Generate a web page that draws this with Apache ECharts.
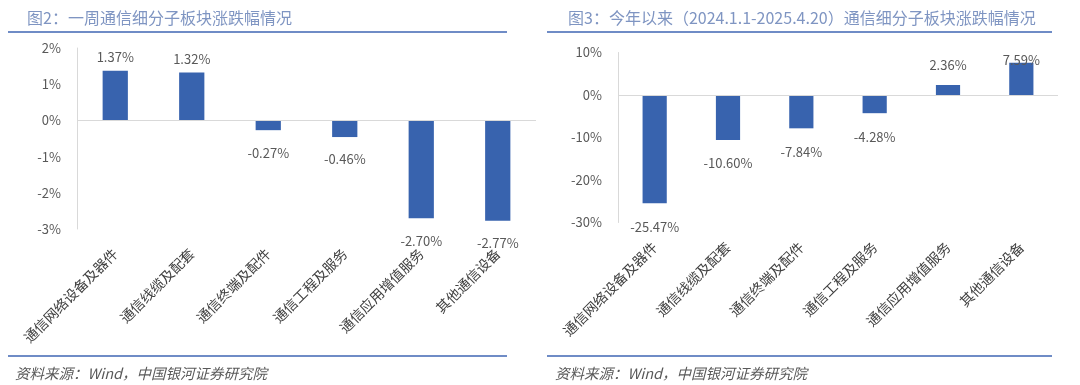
<!DOCTYPE html>
<html>
<head>
<meta charset="utf-8">
<script src="https://cdn.jsdelivr.net/npm/echarts@6/dist/echarts.min.js"></script>
<style>
html,body{margin:0;padding:0;background:#fff;}
#main{width:1080px;height:385px;}
</style>
</head>
<body>
<div id="main"></div>
<script>
// ---- data ----
const categories = ['通信网络设备及器件','通信线缆及配套','通信终端及配件','通信工程及服务','通信应用增值服务','其他通信设备'];
const weekValues = [1.37, 1.32, -0.27, -0.46, -2.70, -2.77];
const ytdValues = [-25.47, -10.60, -7.84, -4.28, 2.36, 7.59];
const weekTicks = {min: -3, max: 2, interval: 1};
const ytdTicks = {min: -30, max: 10, interval: 10};
const titleLeft = '图2：一周通信细分子板块涨跌幅情况';
const titleRight = '图3：今年以来（2024.1.1-2025.4.20）通信细分子板块涨跌幅情况';
const sourceText = '资料来源：Wind，中国银河证券研究院';

const FONT = '"Noto Sans CJK SC", "Noto Sans", sans-serif';
const BAR = '#3863ae';
const LABEL = '#595959';
const TITLE = '#7f95c2';
const RULE = '#6f8cc6';

function buildData(vals, posDist, negDist, overrides) {
  return vals.map((v, i) => {
    const o = overrides && overrides[i];
    return {
      value: v,
      label: {
        position: v >= 0 ? 'top' : 'bottom',
        distance: o !== undefined ? o : (v >= 0 ? posDist : negDist)
      }
    };
  });
}

const chart = echarts.init(document.getElementById('main'), null, {renderer: 'canvas'});

function xAxisFor(gi) {
  return {
    type: 'category', gridIndex: gi, data: categories,
    axisLine: {show: false}, axisTick: {show: false},
    axisLabel: {rotate: 45, margin: 22, fontSize: 14, color: '#404040', fontFamily: FONT, interval: 0}
  };
}
function yAxisFor(gi, t) {
  return {
    type: 'value', gridIndex: gi, min: t.min, max: t.max, interval: t.interval,
    axisLine: {show: true, lineStyle: {color: '#d9d9d9', width: 1}},
    axisTick: {show: false}, splitLine: {show: false},
    axisLabel: {formatter: '{value}%', fontSize: 13, color: LABEL, fontFamily: FONT, margin: 16}
  };
}
function seriesFor(gi, data) {
  return {
    type: 'bar', xAxisIndex: gi, yAxisIndex: gi, data: data, barWidth: '33%',
    itemStyle: {color: BAR},
    label: {show: true, formatter: p => p.value.toFixed(2) + '%', fontSize: 13, color: LABEL, fontFamily: FONT},
    markLine: {
      silent: true, symbol: 'none', label: {show: false},
      lineStyle: {color: '#d9d9d9', width: 1, type: 'solid'},
      data: [{yAxis: 0}], animation: false
    },
    animation: false
  };
}

chart.setOption({
  backgroundColor: '#fff',
  animation: false,
  title: [
    {text: titleLeft, left: 22, top: 5, textStyle: {fontSize: 16, fontWeight: 'normal', color: TITLE, fontFamily: FONT}},
    {text: titleRight, left: 563, top: 5, textStyle: {fontSize: 16, fontWeight: 'normal', color: TITLE, fontFamily: FONT}},
    {text: sourceText, left: 10, top: 361, textStyle: {fontSize: 14.5, fontWeight: 'normal', fontStyle: 'italic', color: LABEL, fontFamily: FONT}},
    {text: sourceText, left: 550, top: 361, textStyle: {fontSize: 14.5, fontWeight: 'normal', fontStyle: 'italic', color: LABEL, fontFamily: FONT}}
  ],
  grid: [
    {left: 77, top: 48, width: 459, height: 181},
    {left: 618, top: 52.5, width: 440, height: 170}
  ],
  xAxis: [xAxisFor(0), xAxisFor(1)],
  yAxis: [yAxisFor(0, weekTicks), yAxisFor(1, ytdTicks)],
  series: [
    seriesFor(0, buildData(weekValues, 7, 16)),
    seriesFor(1, buildData(ytdValues, 13, 17, {5: -4}))
  ],
  graphic: [
    {type: 'line', shape: {x1: 8, y1: 32, x2: 507, y2: 32}, style: {stroke: RULE, lineWidth: 2}},
    {type: 'line', shape: {x1: 547, y1: 32, x2: 1052, y2: 32}, style: {stroke: RULE, lineWidth: 2}},
    {type: 'line', shape: {x1: 8, y1: 356, x2: 507, y2: 356}, style: {stroke: RULE, lineWidth: 2}},
    {type: 'line', shape: {x1: 547, y1: 356, x2: 1052, y2: 356}, style: {stroke: RULE, lineWidth: 2}}
  ]
});
</script>
</body>
</html>
